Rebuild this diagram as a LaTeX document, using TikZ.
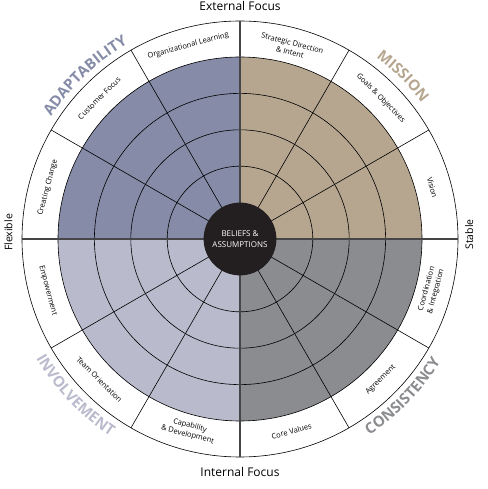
\documentclass[tikz,border=0pt]{standalone}
\usepackage{fontspec}
\setmainfont{Open Sans}
\usepackage{tikz}
\usetikzlibrary{decorations.text}

\definecolor{adaptcol}{RGB}{134,139,168}
\definecolor{missioncol}{RGB}{182,166,143}
\definecolor{consistcol}{RGB}{139,140,143}
\definecolor{involvecol}{RGB}{185,187,205}
\definecolor{diskcol}{RGB}{35,31,32}
\definecolor{axiscol}{RGB}{70,70,72}

\newcommand{\quadfont}{\fontsize{15}{15}\selectfont\bfseries}

\begin{document}
\begin{tikzpicture}[
    seclabel/.style={
        font=\fontsize{7.5}{9.5}\selectfont,
        align=center,
        inner sep=0pt
    },
    axislabel/.style={font=\fontsize{12}{13}\selectfont, inner sep=0pt},
    sidelabel/.style={font=\fontsize{10.5}{12}\selectfont, inner sep=0pt},
    ringline/.style={draw=black, line width=0.6pt},
    axisline/.style={draw=axiscol, line width=1.6pt},
    quadtitle/.style 2 args={
        decorate,
        decoration={text along path, text align=center,
            text color=#2, text={|\quadfont|#1}}
    }
]
\useasboundingbox (-240pt,-250pt) rectangle (247pt,239pt);

\fill[missioncol] (0,0) -- (0:182pt) arc[start angle=0, end angle=90, radius=182pt] -- cycle;
\fill[adaptcol] (0,0) -- (90:182pt) arc[start angle=90, end angle=180, radius=182pt] -- cycle;
\fill[involvecol] (0,0) -- (180:182pt) arc[start angle=180, end angle=270, radius=182pt] -- cycle;
\fill[consistcol] (0,0) -- (270:182pt) arc[start angle=270, end angle=360, radius=182pt] -- cycle;

\draw[ringline] (0,0) circle[radius=72.8pt];
\draw[ringline] (0,0) circle[radius=109.2pt];
\draw[ringline] (0,0) circle[radius=145.6pt];
\draw[ringline] (0,0) circle[radius=182pt];
\draw[ringline] (0,0) circle[radius=218pt];

\draw[ringline] (30:36pt) -- (30:218pt) (60:36pt) -- (60:218pt)
    (120:36pt) -- (120:218pt) (150:36pt) -- (150:218pt)
    (210:36pt) -- (210:218pt) (240:36pt) -- (240:218pt)
    (300:36pt) -- (300:218pt) (330:36pt) -- (330:218pt);

\draw[axisline] (180:218pt) -- (0:218pt);
\draw[axisline] (270:218pt) -- (90:218pt);

\node[circle, fill=diskcol, minimum size=72.8pt, inner sep=0pt,
    text=white, align=center, font=\fontsize{8}{11}\selectfont] (core) at (0,0) {BELIEFS \&\\ASSUMPTIONS};

\node[seclabel, rotate=15] (orglearn) at (105:200pt) {Organizational Learning};
\node[seclabel, rotate=45] (custfocus) at (135:199pt) {Customer Focus};
\node[seclabel, rotate=75] (creatchange) at (165:199pt) {Creating Change};
\node[seclabel, rotate=-15] (strategic) at (75:198pt) {Strategic Direction\\\& Intent};
\node[seclabel, rotate=-45] (goals) at (45:199pt) {Goals \& Objectives};
\node[seclabel, rotate=-75] (vision) at (15:199pt) {Vision};
\node[seclabel, rotate=75] (coord) at (-15:198pt) {Coordination\\\& Integration};
\node[seclabel, rotate=45] (agree) at (-45:199pt) {Agreement};
\node[seclabel, rotate=15] (corevalues) at (-75:199pt) {Core Values};
\node[seclabel, rotate=-15] (capability) at (-105:198pt) {Capability\\\& Development};
\node[seclabel, rotate=-45] (teamorient) at (-135:199pt) {Team Orientation};
\node[seclabel, rotate=-75] (empower) at (-165:199pt) {Empowerment};

\path[quadtitle={ADAPTABILITY}{adaptcol}] (163.5:225pt) arc[start angle=163.5, end angle=103.5, radius=225pt];
\path[quadtitle={MISSION}{missioncol}] (75:227pt) arc[start angle=75, end angle=15, radius=227pt];
\path[quadtitle={CONSISTENCY}{consistcol}] (-74:235pt) arc[start angle=-74, end angle=-14, radius=235pt];
\path[quadtitle={INVOLVEMENT}{involvecol}] (-166.5:236pt) arc[start angle=-166.5, end angle=-106.5, radius=236pt];

\node[axislabel, anchor=base] (external) at (0,228pt) {External Focus};
\node[axislabel, anchor=base] (internal) at (0,-237pt) {Internal Focus};
\node[sidelabel, rotate=90, anchor=base] (flexible) at (-227.5pt,6.5pt) {Flexible};
\node[sidelabel, rotate=90, anchor=base] (stable) at (233pt,4.5pt) {Stable};
\end{tikzpicture}
\end{document}
